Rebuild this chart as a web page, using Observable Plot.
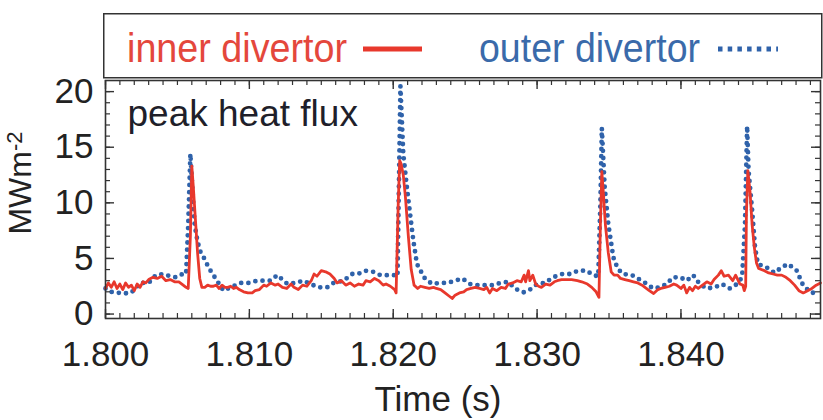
<!DOCTYPE html>
<html><head><meta charset="utf-8">
<script src="https://cdn.jsdelivr.net/npm/d3@7"></script>
<script src="https://cdn.jsdelivr.net/npm/@observablehq/plot@0.6"></script>
<style>
html,body{margin:0;padding:0;background:#fff;}
#wrap{position:relative;width:823px;height:420px;overflow:hidden;font-family:"Liberation Sans",Arial,Helvetica,sans-serif;}
#legend{position:absolute;left:0;top:0;}
</style>
</head><body>
<div id="wrap"></div>
<script>
// ---- data (time in ms, heat flux in MW m^-2) ----
const innerTimeMs = [
1800.0,1800.2,1800.4,1800.6,1800.8,1801.0,1801.2,1801.4,1801.6,1801.8,
1802.0,1802.2,1802.4,1802.6,1802.8,1803.0,1803.3,1803.6,1803.9,1804.2,
1804.5,1804.8,1805.1,1805.4,1805.6,1805.75,1805.9,1806.0,1806.1,1806.25,
1806.4,1806.55,1806.7,1806.9,1807.1,1807.3,1807.5,1807.7,1807.9,1808.1,
1808.3,1808.5,1808.7,1808.9,1809.1,1809.3,1809.6,1809.9,1810.2,1810.4,
1810.7,1811.0,1811.2,1811.5,1811.8,1812.0,1812.3,1812.6,1812.9,1813.1,
1813.4,1813.7,1814.0,1814.3,1814.5,1814.7,1815.0,1815.3,1815.6,1815.9,
1816.1,1816.4,1816.7,1817.0,1817.3,1817.6,1817.9,1818.1,1818.4,1818.7,
1819.0,1819.3,1819.5,1819.8,1820.1,1820.2,1820.35,1820.45,1820.55,1820.7,
1820.85,1821.05,1821.25,1821.45,1821.7,1821.9,1822.2,1822.5,1822.8,1823.0,
1823.3,1823.6,1823.9,1824.1,1824.3,1824.6,1824.9,1825.1,1825.4,1825.7,
1826.0,1826.3,1826.5,1826.7,1826.9,1827.2,1827.5,1827.8,1828.0,1828.3,
1828.6,1828.9,1829.1,1829.2,1829.4,1829.5,1829.7,1829.9,1830.1,1830.3,
1830.6,1830.9,1831.2,1831.4,1831.7,1832.1,1832.4,1832.8,1833.1,1833.5,
1833.8,1834.1,1834.3,1834.4,1834.5,1834.6,1834.75,1834.95,1835.15,1835.35,
1835.6,1835.8,1836.1,1836.4,1836.7,1837.0,1837.3,1837.5,1837.8,1838.1,
1838.4,1838.6,1838.9,1839.2,1839.5,1839.7,1840.0,1840.2,1840.4,1840.6,
1840.8,1841.0,1841.2,1841.5,1841.8,1842.1,1842.3,1842.6,1842.8,1843.0,
1843.3,1843.6,1843.8,1844.1,1844.3,1844.4,1844.5,1844.55,1844.65,1844.8,
1844.95,1845.1,1845.25,1845.4,1845.8,1846.1,1846.4,1846.7,1847.0,1847.3,
1847.6,1847.9,1848.2,1848.5,1848.8,1849.1,1849.4,1849.7
];
const innerFlux = [
2.3,2.8,2.4,2.9,2.3,2.7,2.2,2.8,2.4,2.6,
2.1,2.7,2.4,2.9,2.8,3.1,3.3,3.2,3.4,3.0,
3.1,2.9,2.9,2.6,2.4,2.3,7.0,13.3,11.5,8.5,
5.5,3.2,2.4,2.4,2.6,2.5,2.5,2.6,2.3,2.6,
2.4,2.4,2.5,2.3,2.4,2.2,2.0,1.9,1.9,2.1,
2.2,2.6,2.5,2.8,2.6,2.7,2.4,2.3,2.7,2.4,
2.2,2.6,2.5,3.0,3.6,3.4,3.9,3.8,3.6,3.2,
2.8,3.0,2.6,2.8,2.5,2.7,2.6,3.0,2.9,3.2,
3.0,2.6,2.7,2.5,2.2,1.9,10.0,13.8,13.5,12.5,
10.5,7.0,4.0,2.6,2.3,2.5,2.4,2.3,2.4,2.3,
2.2,1.9,1.6,1.4,1.7,1.9,2.0,2.2,2.3,2.4,
2.3,2.2,2.4,1.9,2.3,2.1,2.4,2.3,2.7,2.8,
3.0,2.9,3.5,2.9,3.9,3.0,3.5,2.7,2.5,2.4,
2.7,2.6,2.9,3.0,3.1,3.1,3.1,3.0,2.9,2.7,
2.4,2.0,1.5,8.0,12.8,11.0,8.0,5.5,3.8,3.5,
3.5,3.2,3.1,3.0,2.9,2.8,2.6,2.4,2.1,1.85,
2.2,2.3,2.4,2.5,2.7,2.6,2.3,2.6,1.9,2.4,
2.1,2.5,2.3,2.6,2.9,2.7,3.1,3.5,3.9,3.4,
3.5,3.0,3.5,2.7,2.6,2.1,2.5,9.0,12.9,11.0,
8.0,6.0,4.6,4.1,3.9,3.7,3.6,3.5,3.5,3.3,
3.0,2.6,2.1,1.9,2.1,2.3,2.6,2.8
];
const outerTimeMs = [
1800.0,1800.35,1800.7,1801.2,1801.75,1802.1,1802.4,1803.0,1803.5,1804.0,
1804.5,1804.9,1805.35,1805.6,1805.75,1805.9,1806.05,1806.2,1806.4,1806.6,
1806.95,1807.15,1807.5,1807.85,1808.2,1808.7,1809.4,1809.95,1810.55,1810.95,
1811.45,1811.95,1812.65,1813.2,1813.75,1814.25,1814.8,1815.4,1815.85,1816.55,
1817.15,1817.55,1818.05,1818.6,1819.1,1819.65,1820.15,1820.3,1820.4,1820.5,
1820.7,1820.95,1821.2,1821.4,1821.65,1821.9,1822.2,1822.7,1823.25,1823.8,
1824.3,1824.8,1825.35,1825.9,1826.4,1826.95,1827.45,1828.0,1828.45,1829.05,
1829.5,1830.0,1830.55,1831.1,1831.75,1832.3,1832.85,1833.45,1833.9,1834.25,
1834.4,1834.5,1834.7,1834.95,1835.3,1835.6,1835.95,1836.6,1837.0,1837.65,
1838.05,1838.55,1839.0,1839.45,1839.95,1840.4,1840.85,1841.3,1841.8,1842.35,
1842.85,1843.4,1843.9,1844.25,1844.45,1844.6,1844.7,1844.95,1845.15,1845.35,
1845.95,1846.5,1847.0,1847.45,1848.05,1848.45,1848.95,1849.45,1849.65
];
const outerFlux = [
2.3,2.0,1.95,1.85,1.9,2.3,2.8,2.8,3.5,3.6,
3.4,3.3,3.6,3.6,8.0,14.4,11.0,8.0,6.5,5.6,
4.8,4.2,3.5,2.8,2.1,2.4,2.8,2.8,3.0,3.0,
3.0,3.5,2.7,2.8,3.0,2.7,2.4,2.4,2.8,3.0,
3.6,3.6,3.9,3.8,3.5,3.5,3.5,3.4,12.0,20.5,
14.4,11.4,8.7,6.6,4.5,3.9,3.2,2.7,2.8,2.8,
3.0,3.2,2.7,2.6,2.6,2.6,2.8,2.9,2.3,1.95,
2.2,2.7,2.8,3.3,3.6,3.6,3.9,3.9,3.5,3.4,
10.0,16.7,11.4,8.1,5.1,4.1,3.6,3.5,3.2,2.7,
2.3,2.4,2.7,3.3,3.3,3.0,3.5,2.7,2.3,2.4,
2.7,2.3,2.7,3.3,8.0,16.9,12.9,9.3,6.0,4.5,
4.2,3.7,4.2,4.5,3.9,2.7,1.97,1.85,1.9
];
const xTickMs = [1800, 1810, 1820, 1830, 1840];
const xTickLabels = ["1.800", "1.810", "1.820", "1.830", "1.840"];
const yTicks = [0, 5, 10, 15, 20];
const yTickLabels = ["0", "5", "10", "15", "20"];
const seriesNames = ["inner divertor", "outer divertor"];
const annotation = "peak heat flux";
const xLabel = "Time (s)";
const yLabelMain = "MWm";
const yLabelSup = "-2";

// ---- layout & style ----
const W = 823, H = 420, mT = 80, mB = 102, mL = 105, mR = 3;
const FH = H - mT - mB, FW = W - mL - mR;
const RED = "#e8382c", BLUE = "#2f62aa", AX = "#333";
const FONT = "'Liberation Sans', Arial, Helvetica, sans-serif";

const inner = innerTimeMs.map((t, i) => ({t, v: innerFlux[i]}));
const outer = outerTimeMs.map((t, i) => ({t, v: outerFlux[i]}));
const xMinor = d3.range(1800, 1850, 1);
const yMinor = d3.range(0, 21, 1);

const chart = Plot.plot({
  width: W, height: H,
  marginTop: mT, marginBottom: mB, marginLeft: mL, marginRight: mR,
  style: {fontFamily: FONT, color: "#222", background: "white", overflow: "visible"},
  x: {domain: [1800, 1849.7]},
  y: {domain: [-0.4, 21]},
  marks: [
    Plot.lineY(outer, {x: "t", y: "v", stroke: BLUE, strokeWidth: 4.8, strokeDasharray: "0 7.2", strokeLinecap: "round", strokeLinejoin: "round"}),
    Plot.lineY(inner, {x: "t", y: "v", stroke: RED, strokeWidth: 2.8, strokeLinejoin: "round"}),
    // minor / major ticks, inward on all four sides
    Plot.ruleX(xMinor, {stroke: AX, strokeWidth: 1.2, insetTop: FH - 5}),
    Plot.ruleX(xMinor, {stroke: AX, strokeWidth: 1.2, insetBottom: FH - 5}),
    Plot.ruleX(xTickMs, {stroke: AX, strokeWidth: 1.4, insetTop: FH - 9}),
    Plot.ruleX(xTickMs, {stroke: AX, strokeWidth: 1.4, insetBottom: FH - 9}),
    Plot.ruleY(yMinor, {stroke: AX, strokeWidth: 1.2, insetRight: FW - 5}),
    Plot.ruleY(yMinor, {stroke: AX, strokeWidth: 1.2, insetLeft: FW - 5}),
    Plot.ruleY(yTicks, {stroke: AX, strokeWidth: 1.4, insetRight: FW - 9}),
    Plot.ruleY(yTicks, {stroke: AX, strokeWidth: 1.4, insetLeft: FW - 9}),
    Plot.axisX(xTickMs, {tickSize: 0, tickPadding: 23, fontSize: 35, label: null,
      tickFormat: d => xTickLabels[xTickMs.indexOf(d)]}),
    Plot.axisY(yTicks, {tickSize: 0, tickPadding: 12, fontSize: 35, label: null,
      tickFormat: d => yTickLabels[yTicks.indexOf(d)]}),
    Plot.frame({stroke: AX, strokeWidth: 1.6}),
    Plot.text([annotation], {frameAnchor: "top-left", textAnchor: "start", lineAnchor: "top",
      dx: 22, dy: 19, fontSize: 37, fill: "#1f1f2a"})
  ]
});

const wrap = document.getElementById("wrap");
wrap.appendChild(chart);

// axis titles
const svg = d3.select(chart);
const yl = svg.append("text")
  .attr("transform", "translate(31,183) rotate(-90)")
  .attr("text-anchor", "middle")
  .attr("fill", "#222")
  .style("font-family", FONT).style("font-size", "32px");
yl.append("tspan").text(yLabelMain);
yl.append("tspan").attr("dy", -9).style("font-size", "22px").text(yLabelSup);

svg.append("text")
  .attr("x", 438).attr("y", 411)
  .attr("text-anchor", "middle")
  .attr("fill", "#222")
  .style("font-family", FONT).style("font-size", "35px")
  .text(xLabel);

// legend box above the frame
const lg = d3.select(wrap).append("svg")
  .attr("id", "legend").attr("width", W).attr("height", 80);
lg.append("rect").attr("x", 103.75).attr("y", 13.75).attr("width", 718).attr("height", 64)
  .attr("fill", "white").attr("stroke", AX).attr("stroke-width", 1.5);
lg.append("text").attr("x", 127).attr("y", 62)
  .attr("textLength", 220).attr("lengthAdjust", "spacingAndGlyphs")
  .attr("fill", "#e4473c").style("font-family", FONT).style("font-size", "40px")
  .text(seriesNames[0]);
lg.append("line").attr("x1", 363).attr("x2", 422).attr("y1", 49).attr("y2", 49)
  .attr("stroke", RED).attr("stroke-width", 5);
lg.append("text").attr("x", 479).attr("y", 62)
  .attr("textLength", 221).attr("lengthAdjust", "spacingAndGlyphs")
  .attr("fill", "#3a6aaa").style("font-family", FONT).style("font-size", "40px")
  .text(seriesNames[1]);
lg.append("line").attr("x1", 718).attr("x2", 778).attr("y1", 49).attr("y2", 49)
  .attr("stroke", BLUE).attr("stroke-width", 5).attr("stroke-dasharray", "4.5 5.2");
</script>
</body></html>
